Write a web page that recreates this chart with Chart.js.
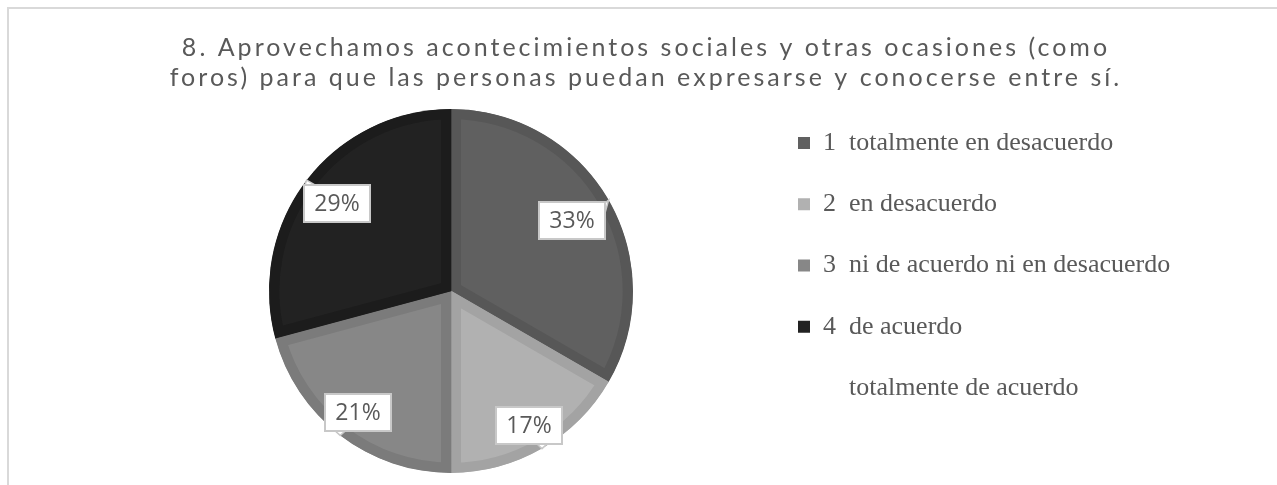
<!DOCTYPE html>
<html><head><meta charset="utf-8">
<script src="https://cdn.jsdelivr.net/npm/chart.js@4.4.1/dist/chart.umd.min.js"></script>
<style>
html,body{margin:0;padding:0;background:#fff;overflow:hidden;width:1277px;height:485px;position:relative;}
#frame{position:absolute;left:7px;top:7px;width:2000px;height:2000px;border-top:2px solid #d9d9d9;border-left:2px solid #d9d9d9;}
#c{position:absolute;left:0;top:0;}
</style></head><body>
<div id="frame"></div>
<canvas id="c" width="1277" height="500"></canvas>
<script>
const titleLines = [
  '8. Aprovechamos acontecimientos sociales y otras ocasiones (como',
  'foros) para que las personas puedan expresarse y conocerse entre sí.'
];
const categories = [
  '1  totalmente en desacuerdo',
  '2  en desacuerdo',
  '3  ni de acuerdo ni en desacuerdo',
  '4  de acuerdo',
  '    totalmente de acuerdo'
];
const responses = [8, 4, 5, 7, 0];
const sliceColors = ['#606060', '#b1b1b1', '#878787', '#222222', 'rgba(0,0,0,0)'];
const sliceEdgeColors = ['#575757', '#a3a3a3', '#7b7b7b', '#1c1c1c', 'rgba(0,0,0,0)'];
const labelRadius = [0.77, 0.855, 0.84, 0.79, 0.8];

// title tracking (letter spacing) so the line spans like the original
const TITLE_FONT = '25px Lato';
const mctx = document.createElement('canvas').getContext('2d');
mctx.font = TITLE_FONT;
const line1W = mctx.measureText(titleLines[0]).width;
const titleSpacing = Math.max(0, (925 - line1W) / (titleLines[0].length - 1));

const calloutPlugin = {
  id: 'callouts',
  beforeDraw(chart) {
    const tb = chart.titleBlock;
    if (tb && !tb._tracked) {
      const orig = tb.draw.bind(tb);
      tb.draw = function (area) {
        const c = chart.ctx;
        const prev = c.letterSpacing;
        c.letterSpacing = titleSpacing.toFixed(2) + 'px';
        orig(area);
        c.letterSpacing = prev || '0px';
      };
      tb._tracked = true;
    }
  },
  afterLayout(chart) {
    const lg = chart.legend;
    if (lg) { lg.width = 520; lg.right = lg.left + 520; }
  },
  afterDatasetsDraw(chart) {
    const meta = chart.getDatasetMeta(0);
    const total = responses.reduce((a, b) => a + b, 0);
    const ctx = chart.ctx;
    ctx.save();
    meta.data.forEach((arc, i) => {
      const v = responses[i];
      if (!v) return;
      const p = arc.getProps(['x', 'y', 'startAngle', 'endAngle', 'outerRadius'], true);
      const mid = (p.startAngle + p.endAngle) / 2;
      const f = labelRadius[i];
      const cx = p.x + Math.cos(mid) * p.outerRadius * f;
      const cy = p.y + Math.sin(mid) * p.outerRadius * f;
      const tx = p.x + Math.cos(mid) * p.outerRadius;
      const ty = p.y + Math.sin(mid) * p.outerRadius;
      const w = 66, h = 37;
      const bx = Math.round(cx - w / 2), by = Math.round(cy - h / 2);
      const px = Math.max(bx + 6, Math.min(tx, bx + w - 6));
      const py = Math.max(by + 6, Math.min(ty, by + h - 6));
      const horiz = Math.abs(ty - py) > Math.abs(tx - px);
      ctx.beginPath();
      if (horiz) {
        const ey = ty < by ? by : by + h;
        ctx.moveTo(px - 5, ey); ctx.lineTo(tx, ty); ctx.lineTo(px + 5, ey);
      } else {
        const ex = tx < bx ? bx : bx + w;
        ctx.moveTo(ex, py - 5); ctx.lineTo(tx, ty); ctx.lineTo(ex, py + 5);
      }
      ctx.closePath();
      ctx.fillStyle = '#ffffff';
      ctx.fill();
      ctx.strokeStyle = '#c8c8c8';
      ctx.lineWidth = 1.5;
      ctx.stroke();
      ctx.fillStyle = '#ffffff';
      ctx.fillRect(bx, by, w, h);
      ctx.lineWidth = 2;
      ctx.strokeStyle = '#c8c8c8';
      ctx.strokeRect(bx, by, w, h);
      ctx.fillStyle = '#595959';
      ctx.font = '23px "Open Sans"';
      ctx.textAlign = 'center';
      ctx.textBaseline = 'middle';
      ctx.fillText(Math.round(v / total * 100) + '%', bx + w / 2, by + h / 2 + 1);
    });
    ctx.restore();
  }
};

new Chart(document.getElementById('c'), {
  type: 'pie',
  data: {
    labels: categories,
    datasets: [{
      data: responses,
      backgroundColor: sliceColors,
      borderColor: sliceEdgeColors,
      borderWidth: 10,
      borderAlign: 'inner',
      radius: 182
    }]
  },
  options: {
    responsive: false,
    animation: false,
    events: [],
    layout: { padding: { left: 139.25, right: 124.25, top: 0, bottom: 12.75 } },
    plugins: {
      title: {
        display: true,
        text: titleLines,
        color: '#595959',
        font: { family: 'Lato', size: 25, weight: 'normal', lineHeight: 30 / 25 },
        padding: { top: 32.6, bottom: 2.15 }
      },
      legend: {
        position: 'right',
        align: 'start',
        fullSize: false,
        maxWidth: 390,
        labels: {
          boxWidth: 12,
          boxHeight: 12,
          padding: 35.25,
          color: '#595959',
          font: { family: 'Liberation Serif', size: 26 },
          generateLabels(chart) {
            const items = Chart.overrides.pie.plugins.legend.labels.generateLabels(chart);
            return items.map((it, i) => Object.assign(it, {
              fillStyle: sliceColors[i], strokeStyle: sliceColors[i], lineWidth: 0
            }));
          }
        }
      },
      tooltip: { enabled: false }
    }
  },
  plugins: [calloutPlugin]
});
</script>
</body></html>
